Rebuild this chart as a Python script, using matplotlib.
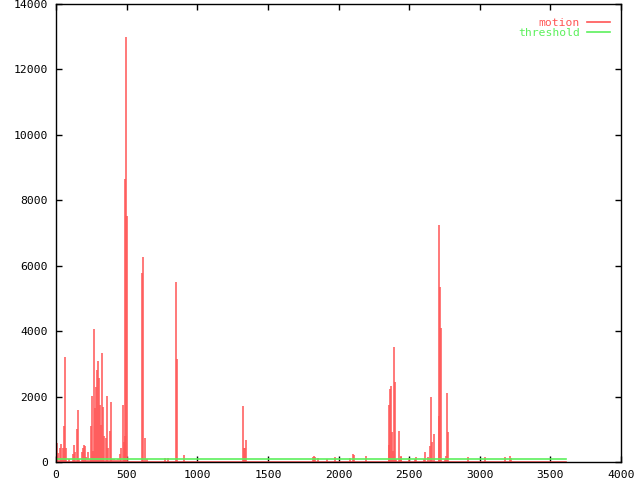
import numpy as np
import matplotlib
matplotlib.use("Agg")
import matplotlib.pyplot as plt

# motion spikes (time, value); everything else is 0
spike_t = [3, 9, 16, 31, 38, 45, 52, 59, 66, 73, 92, 123, 130, 137, 149, 156, 163,
           187, 194, 201, 208, 215, 229, 243, 250, 257, 264, 271, 278, 285, 293, 300,
           307, 314, 321, 328, 335, 342, 356, 363, 370, 385, 392, 399, 413, 427, 441,
           455, 462, 471, 478, 485, 492, 499, 506, 612, 619, 627, 641, 774, 795, 853,
           860, 903, 1326, 1333, 1340, 1347, 1816, 1830, 1837, 1858, 1916, 1977, 2083,
           2103, 2110, 2197, 2354, 2361, 2368, 2375, 2382, 2389, 2396, 2403, 2410, 2425,
           2432, 2439, 2446, 2496, 2545, 2552, 2602, 2609, 2637, 2651, 2658, 2665, 2673,
           2708, 2715, 2722, 2729, 2751, 2758, 2765, 2772, 2917, 3037, 3179, 3215, 3222]
spike_v = [1830, 580, 275, 440, 550, 120, 440, 1110, 3220, 440, 80, 250, 520, 320, 1010, 1600, 100,
           320, 420, 520, 480, 150, 320, 100, 1110, 2020, 340, 4065, 1650, 2300, 2810, 3100,
           2580, 1740, 1130, 3340, 1690, 795, 740, 2020, 430, 950, 1845, 100, 80, 70, 90,
           250, 430, 1740, 620, 780, 8650, 13000, 7520, 5780, 6270, 745, 100, 130, 120, 5500,
           3150, 200, 1710, 420, 420, 670, 150, 180, 150, 130, 100, 160, 110,
           245, 200, 180, 520, 1740, 2230, 2330, 930, 350, 3515, 2445, 80, 960,
           90, 180, 140, 110, 80, 160, 80, 300, 160, 490, 1990, 610, 870,
           1400, 7250, 5350, 4090, 80, 180, 2110, 920, 140, 140, 140, 180, 130]
time_range = [0, 3610]
threshold = 100

xticks = [0, 500, 1000, 1500, 2000, 2500, 3000, 3500, 4000]
yticks = [0, 2000, 4000, 6000, 8000, 10000, 12000, 14000]

red = '#ff5555'
green = '#5cf05c'
mono = 'DejaVu Sans Mono'

fig = plt.figure(figsize=(6.4, 4.8), dpi=100)
ax = fig.add_axes([56/640, 18/480, 565/640, 458/480])

ax.vlines(spike_t, 0, spike_v, color=red, lw=1.1)
ax.plot(time_range, [0, 0], color=red, lw=1.2, label='motion')
ax.plot(time_range, [threshold, threshold], color=green, lw=1.2, label='threshold')

ax.set_xlim(0, 4000)
ax.set_ylim(0, 14000)
ax.set_xticks(xticks)
ax.set_yticks(yticks)
ax.tick_params(direction='in', length=4, width=1, top=True, right=True,
               labelsize=8.2, pad=6)
for lab in ax.get_xticklabels() + ax.get_yticklabels():
    lab.set_family(mono)
for sp in ax.spines.values():
    sp.set_linewidth(1)

leg = ax.legend(loc='upper right', bbox_to_anchor=(1.004, 1.0), frameon=False,
                markerfirst=False, handlelength=2.0, handletextpad=0.6,
                labelspacing=0.05, borderaxespad=0.8,
                labelcolor='linecolor', prop={'family': mono, 'size': 8.2})

fig.savefig('out.png', dpi=100)
